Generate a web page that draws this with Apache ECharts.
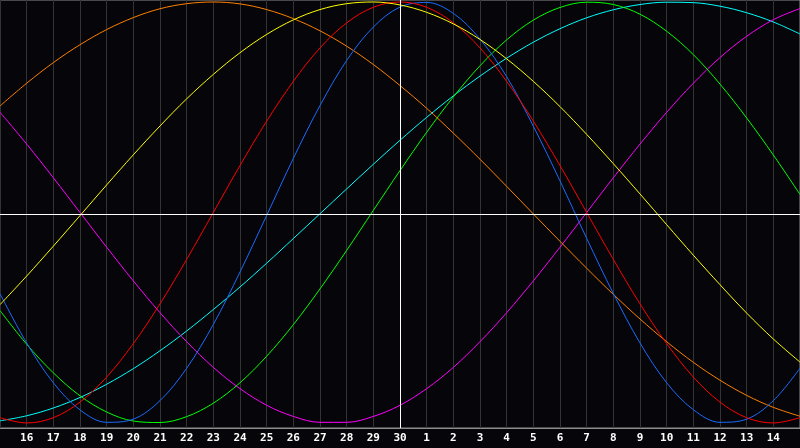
<!DOCTYPE html>
<html>
<head>
<meta charset="utf-8">
<script src="https://cdn.jsdelivr.net/npm/echarts@6/dist/echarts.min.js"></script>
<style>
  html, body { margin: 0; padding: 0; background: #06060a; }
  #chart { width: 800px; height: 448px; }
</style>
</head>
<body>
<div id="chart"></div>
<script>
// day labels, one per grid column (first and last are not shown)
const days = ['15', '16', '17', '18', '19', '20', '21', '22', '23', '24', '25', '26', '27', '28', '29', '30',
  '1', '2', '3', '4', '5', '6', '7', '8', '9', '10', '11', '12', '13', '14', '15']

// curve values, -1 .. 1
const blue = [-0.386, -0.620, -0.809, -0.938, -0.997, -0.982, -0.894, -0.740, -0.532, -0.283, -0.014, 0.257, 0.508, 0.722, 0.881, 0.976,
  0.998, 0.946, 0.824, 0.645, 0.410, 0.150, -0.123, -0.385, -0.620, -0.809, -0.937, -0.997, -0.982, -0.894, -0.740]
const red = [-0.975, -1.000, -0.975, -0.901, -0.782, -0.623, -0.434, -0.223, 0.000, 0.223, 0.434, 0.623, 0.782, 0.901, 0.975, 1.000,
  0.975, 0.901, 0.782, 0.623, 0.434, 0.223, 0.000, -0.223, -0.434, -0.623, -0.782, -0.901, -0.975, -1.000, -0.975]
const green = [-0.466, -0.626, -0.762, -0.871, -0.948, -0.991, -0.998, -0.970, -0.906, -0.809, -0.683, -0.533, -0.363, -0.180, 0.010, 0.199,
  0.381, 0.549, 0.697, 0.820, 0.914, 0.974, 0.999, 0.988, 0.942, 0.861, 0.750, 0.610, 0.449, 0.273, 0.086]
const magenta = [0.476, 0.325, 0.165, 0.000, -0.165, -0.325, -0.476, -0.614, -0.736, -0.837, -0.916, -0.969, -0.997, -0.997, -0.969, -0.916,
  -0.837, -0.736, -0.614, -0.476, -0.325, -0.165, 0.000, 0.165, 0.325, 0.476, 0.614, 0.736, 0.837, 0.916, 0.969]
const orange = [0.506, 0.614, 0.712, 0.797, 0.869, 0.926, 0.968, 0.992, 1.000, 0.991, 0.964, 0.921, 0.863, 0.790, 0.703, 0.603,
  0.495, 0.377, 0.253, 0.124, -0.007, -0.137, -0.265, -0.389, -0.506, -0.614, -0.712, -0.797, -0.869, -0.926, -0.968]
const yellow = [-0.438, -0.302, -0.160, -0.015, 0.131, 0.274, 0.411, 0.540, 0.656, 0.759, 0.846, 0.915, 0.964, 0.992, 1.000, 0.986,
  0.951, 0.896, 0.822, 0.730, 0.623, 0.503, 0.371, 0.232, 0.088, -0.058, -0.203, -0.343, -0.478, -0.601, -0.711]
const cyan = [-0.990, -0.966, -0.929, -0.879, -0.816, -0.742, -0.657, -0.563, -0.461, -0.354, -0.241, -0.124, -0.006, 0.112, 0.229, 0.343,
  0.452, 0.554, 0.648, 0.733, 0.809, 0.873, 0.925, 0.963, 0.988, 0.999, 0.997, 0.980, 0.949, 0.905, 0.848]

const todayIndex = 15
const zeroLevel = -0.0096

const curves = [
  { data: cyan, color: '#00ffff' },
  { data: magenta, color: '#ff00ff' },
  { data: green, color: '#00ff00' },
  { data: orange, color: '#ff8000' },
  { data: blue, color: '#1a6bff' },
  { data: red, color: '#ff0000' },
  { data: yellow, color: '#ffff00' }
]

const chart = echarts.init(document.getElementById('chart'))

const series = curves.map(c => ({
  type: 'line',
  data: c.data,
  smooth: 0.35,
  showSymbol: false,
  silent: true,
  animation: false,
  lineStyle: { color: c.color, width: 1 }
}))

// white cross for today / zero level
series.push({
  type: 'line',
  data: [],
  silent: true,
  animation: false,
  markLine: {
    silent: true,
    symbol: 'none',
    label: { show: false },
    lineStyle: { color: '#ffffff', width: 1, type: 'solid' },
    data: [
      { xAxis: todayIndex },
      { yAxis: zeroLevel }
    ]
  }
})

chart.setOption({
  backgroundColor: '#06060a',
  animation: false,
  grid: {
    left: 0,
    right: 0,
    top: 0,
    bottom: 20,
    show: true,
    borderColor: '#8c8c8c',
    borderWidth: 1
  },
  xAxis: {
    type: 'category',
    boundaryGap: false,
    data: days,
    axisLine: { show: true, onZero: false, lineStyle: { color: '#8c8c8c' } },
    axisTick: { show: false },
    axisLabel: {
      interval: (index) => index > 0 && index < days.length - 1,
      color: '#ffffff',
      fontFamily: 'DejaVu Sans Mono',
      fontWeight: 'bold',
      fontSize: 11,
      margin: 5
    },
    splitLine: { show: true, interval: 0, lineStyle: { color: '#333333', width: 1 } }
  },
  yAxis: {
    type: 'value',
    min: -1.024,
    max: 1.0095,
    axisLine: { show: false },
    axisTick: { show: false },
    axisLabel: { show: false },
    splitLine: { show: false }
  },
  series
})
</script>
</body>
</html>
